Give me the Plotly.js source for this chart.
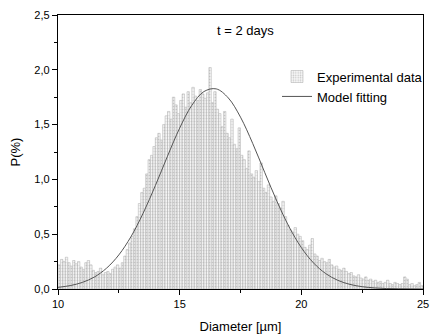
<!DOCTYPE html>
<html><head><meta charset="utf-8">
<script src="https://cdn.plot.ly/plotly-3.0.1.min.js"></script>
<style>html,body{margin:0;padding:0;background:#fff}#chart{width:435px;height:334px}</style>
</head><body><div id="chart"></div>
<script>
// Histogram bins (centres, width 0.1 µm) and measured frequency P(%)
const binStart = 10.0;
const binWidth = 0.1;
const expValues = [
  0.22,0.27,0.25,0.29,0.24,0.21,0.26,0.23,0.25,0.20,
  0.18,0.24,0.26,0.22,0.17,0.15,0.16,0.19,0.13,0.15,
  0.16,0.14,0.18,0.20,0.22,0.19,0.24,0.30,0.36,0.42,
  0.48,0.55,0.66,0.78,0.88,0.92,1.05,1.18,1.22,1.30,
  1.38,1.42,1.36,1.50,1.58,1.62,1.55,1.75,1.68,1.60,
  1.72,1.78,1.66,1.80,1.70,1.84,1.76,1.72,1.82,1.78,
  1.74,1.79,2.02,1.70,1.80,1.64,1.60,1.48,1.62,1.42,
  1.38,1.55,1.32,1.28,1.47,1.22,1.18,1.10,1.26,1.05,
  1.02,1.08,0.98,1.15,0.92,0.88,0.95,0.84,0.80,0.85,
  0.78,0.74,0.80,0.66,0.58,0.54,0.52,0.56,0.50,0.48,
  0.44,0.38,0.36,0.40,0.46,0.32,0.30,0.26,0.28,0.25,
  0.24,0.27,0.22,0.20,0.21,0.18,0.17,0.19,0.16,0.14,
  0.15,0.12,0.11,0.13,0.10,0.09,0.11,0.08,0.09,0.07,
  0.08,0.06,0.07,0.05,0.06,0.08,0.05,0.04,0.06,0.05,
  0.04,0.05,0.11,0.09,0.04,0.05,0.03,0.04,0.06,0.03
];
const expCenters = expValues.map((_, i) => +(binStart + binWidth * (i + 0.5)).toFixed(3));

// Model fitting curve
const modelX = [10,10.5,11,11.5,12,12.5,13,13.5,14,14.5,15,15.5,16,16.5,17,17.5,18,18.5,19,19.5,20,20.5,21,21.5,22,22.5,23,23.5,24,24.5,25];
const modelY = [0.015,0.031,0.060,0.110,0.191,0.311,0.478,0.692,0.943,1.212,1.468,1.676,1.802,1.826,1.743,1.568,1.329,1.061,0.799,0.566,0.378,0.238,0.141,0.079,0.042,0.021,0.010,0.004,0.002,0.001,0.000];

const xTickVals = [10,15,20,25];
const xTickText = ['10','15','20','25'];
const yTickVals = [0,0.5,1,1.5,2,2.5];
const yTickText = ['0,0','0,5','1,0','1,5','2,0','2,5'];

const font = 'Liberation Sans, Arial, sans-serif';

const traces = [
  {
    type: 'bar', x: expCenters, y: expValues, width: binWidth,
    name: 'Experimental data',
    marker: {
      color: '#ffffff',
      line: {color: '#b8b8b8', width: 0.6},
      pattern: {shape: '.', fgcolor: '#c4c4c4', bgcolor: '#f7f7f7', size: 3, solidity: 0.3}
    }
  },
  {
    type: 'scatter', mode: 'lines', x: modelX, y: modelY,
    name: 'Model fitting', line: {color: '#555', width: 1, shape: 'spline'}
  }
];

const layout = {
  width: 435, height: 334,
  margin: {l: 58, r: 7, t: 15, b: 45},
  paper_bgcolor: '#fff', plot_bgcolor: '#fff',
  font: {family: font, size: 11, color: '#000'},
  bargap: 0,
  showlegend: true,
  legend: {x: 0.6, y: 0.83, xanchor: 'left', yanchor: 'top', bgcolor: 'rgba(0,0,0,0)',
           font: {family: font, size: 13}, tracegroupgap: 0, itemwidth: 30},
  xaxis: {
    range: [10, 25], showgrid: false, zeroline: false,
    showline: true, linecolor: '#000', linewidth: 1.2, mirror: true,
    ticks: 'outside', ticklen: 5, tickwidth: 1, tickcolor: '#000',
    tickvals: xTickVals, ticktext: xTickText,
    minor: {ticks: 'outside', ticklen: 3, tickvals: [12.5,17.5,22.5], tickcolor: '#000'},
    tickfont: {size: 11},
    title: {text: 'Diameter [\u00b5m]', font: {size: 13}, standoff: 12}
  },
  yaxis: {
    range: [0, 2.5], showgrid: false, zeroline: false,
    showline: true, linecolor: '#000', linewidth: 1.2, mirror: true,
    ticks: 'outside', ticklen: 5, tickwidth: 1, tickcolor: '#000',
    tickvals: yTickVals, ticktext: yTickText,
    minor: {ticks: 'outside', ticklen: 3, dtick: 0.25, tickcolor: '#000'},
    tickfont: {size: 11},
    title: {text: 'P(%)', font: {size: 13}, standoff: 10}
  },
  annotations: [{
    x: 17.7, y: 2.36, xref: 'x', yref: 'y', text: 't = 2 days', showarrow: false,
    font: {family: font, size: 13, color: '#000'}
  }]
};

Plotly.newPlot('chart', traces, layout, {displayModeBar: false, staticPlot: true});
</script></body></html>
